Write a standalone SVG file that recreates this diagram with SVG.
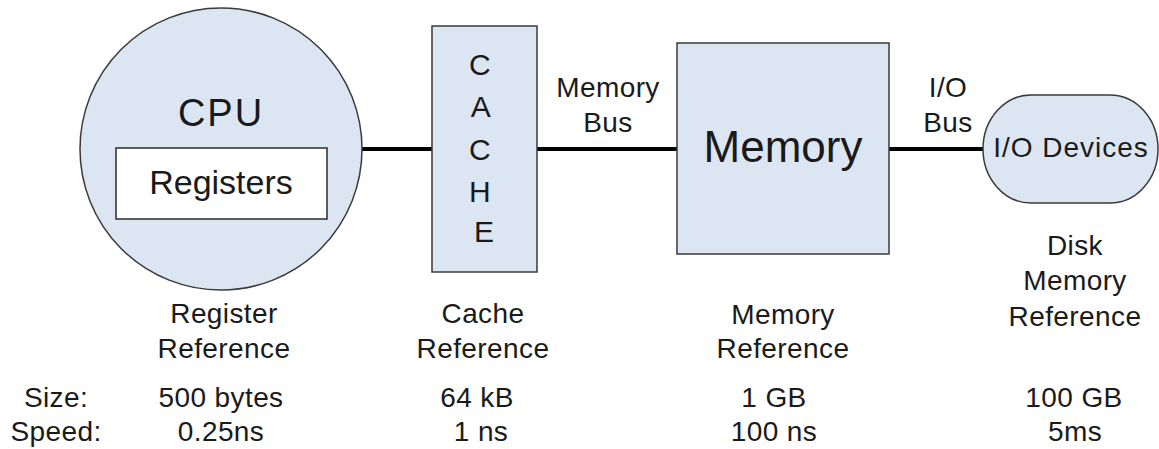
<svg xmlns="http://www.w3.org/2000/svg" width="1159" height="449" viewBox="0 0 1159 449">
  <style>
    text { font-family: "Liberation Sans", Arial, sans-serif; fill: #1a1a1a; text-anchor: middle; }
    .shape { fill: #dce6f2; stroke: #3a3a3a; stroke-width: 1.5; }
    .box { fill: #ffffff; stroke: #2a2a2a; stroke-width: 1.5; }
    .bus { stroke: #000000; stroke-width: 4; fill: none; }
    .lbl { font-size: 28px; letter-spacing: 0.4px; }
    .big { font-size: 44px; }
  </style>

  <rect width="1159" height="449" fill="#ffffff"/>

  <!-- buses between the units -->
  <g id="connectors">
    <line class="bus" x1="361" y1="149" x2="432" y2="149"/>
    <line class="bus" x1="537" y1="149" x2="677" y2="149"/>
    <line class="bus" x1="889" y1="149" x2="983" y2="149"/>
    <text class="lbl" x="608" y="97">Memory</text>
    <text class="lbl" x="608" y="132">Bus</text>
    <text class="lbl" x="948" y="97">I/O</text>
    <text class="lbl" x="948" y="132">Bus</text>
  </g>

  <!-- CPU with its register file -->
  <g id="cpu">
    <circle class="shape" cx="221" cy="149" r="141"/>
    <text x="221" y="126" style="font-size:38px; letter-spacing:2px">CPU</text>
    <rect class="box" x="116" y="148" width="211" height="71"/>
    <text x="221" y="194" style="font-size:34px">Registers</text>
  </g>

  <!-- cache, lettered top to bottom -->
  <g id="cache">
    <rect class="shape" x="432" y="26" width="105" height="246"/>
    <text style="font-size:30px">
      <tspan x="484" y="75">C</tspan>
      <tspan x="484" y="117">A</tspan>
      <tspan x="484" y="160">C</tspan>
      <tspan x="484" y="202">H</tspan>
      <tspan x="484" y="242">E</tspan>
    </text>
  </g>

  <!-- main memory -->
  <g id="memory">
    <rect class="shape" x="677" y="43" width="212" height="211"/>
    <text class="big" x="783" y="162">Memory</text>
  </g>

  <!-- I/O devices -->
  <g id="io-devices">
    <rect class="shape" x="983" y="95" width="175" height="108" rx="48" ry="54"/>
    <text class="lbl" x="1071" y="157" style="letter-spacing:1px">I/O Devices</text>
  </g>

  <!-- access characteristics per level -->
  <g id="row-titles">
    <text class="lbl" x="56" y="407">Size:</text>
    <text class="lbl" x="56" y="441">Speed:</text>
  </g>

  <g id="register-ref">
    <text class="lbl" x="224" y="323">Register</text>
    <text class="lbl" x="224" y="358">Reference</text>
    <text class="lbl" x="221" y="407">500 bytes</text>
    <text class="lbl" x="221" y="441">0.25ns</text>
  </g>

  <g id="cache-ref">
    <text class="lbl" x="483" y="323">Cache</text>
    <text class="lbl" x="483" y="358">Reference</text>
    <text class="lbl" x="477" y="407">64 kB</text>
    <text class="lbl" x="481" y="441">1 ns</text>
  </g>

  <g id="memory-ref">
    <text class="lbl" x="783" y="324">Memory</text>
    <text class="lbl" x="783" y="358">Reference</text>
    <text class="lbl" x="774" y="407">1 GB</text>
    <text class="lbl" x="774" y="441">100 ns</text>
  </g>

  <g id="disk-ref">
    <text class="lbl" x="1075" y="255">Disk</text>
    <text class="lbl" x="1075" y="290">Memory</text>
    <text class="lbl" x="1075" y="326">Reference</text>
    <text class="lbl" x="1074" y="407">100 GB</text>
    <text class="lbl" x="1075" y="441">5ms</text>
  </g>
</svg>
